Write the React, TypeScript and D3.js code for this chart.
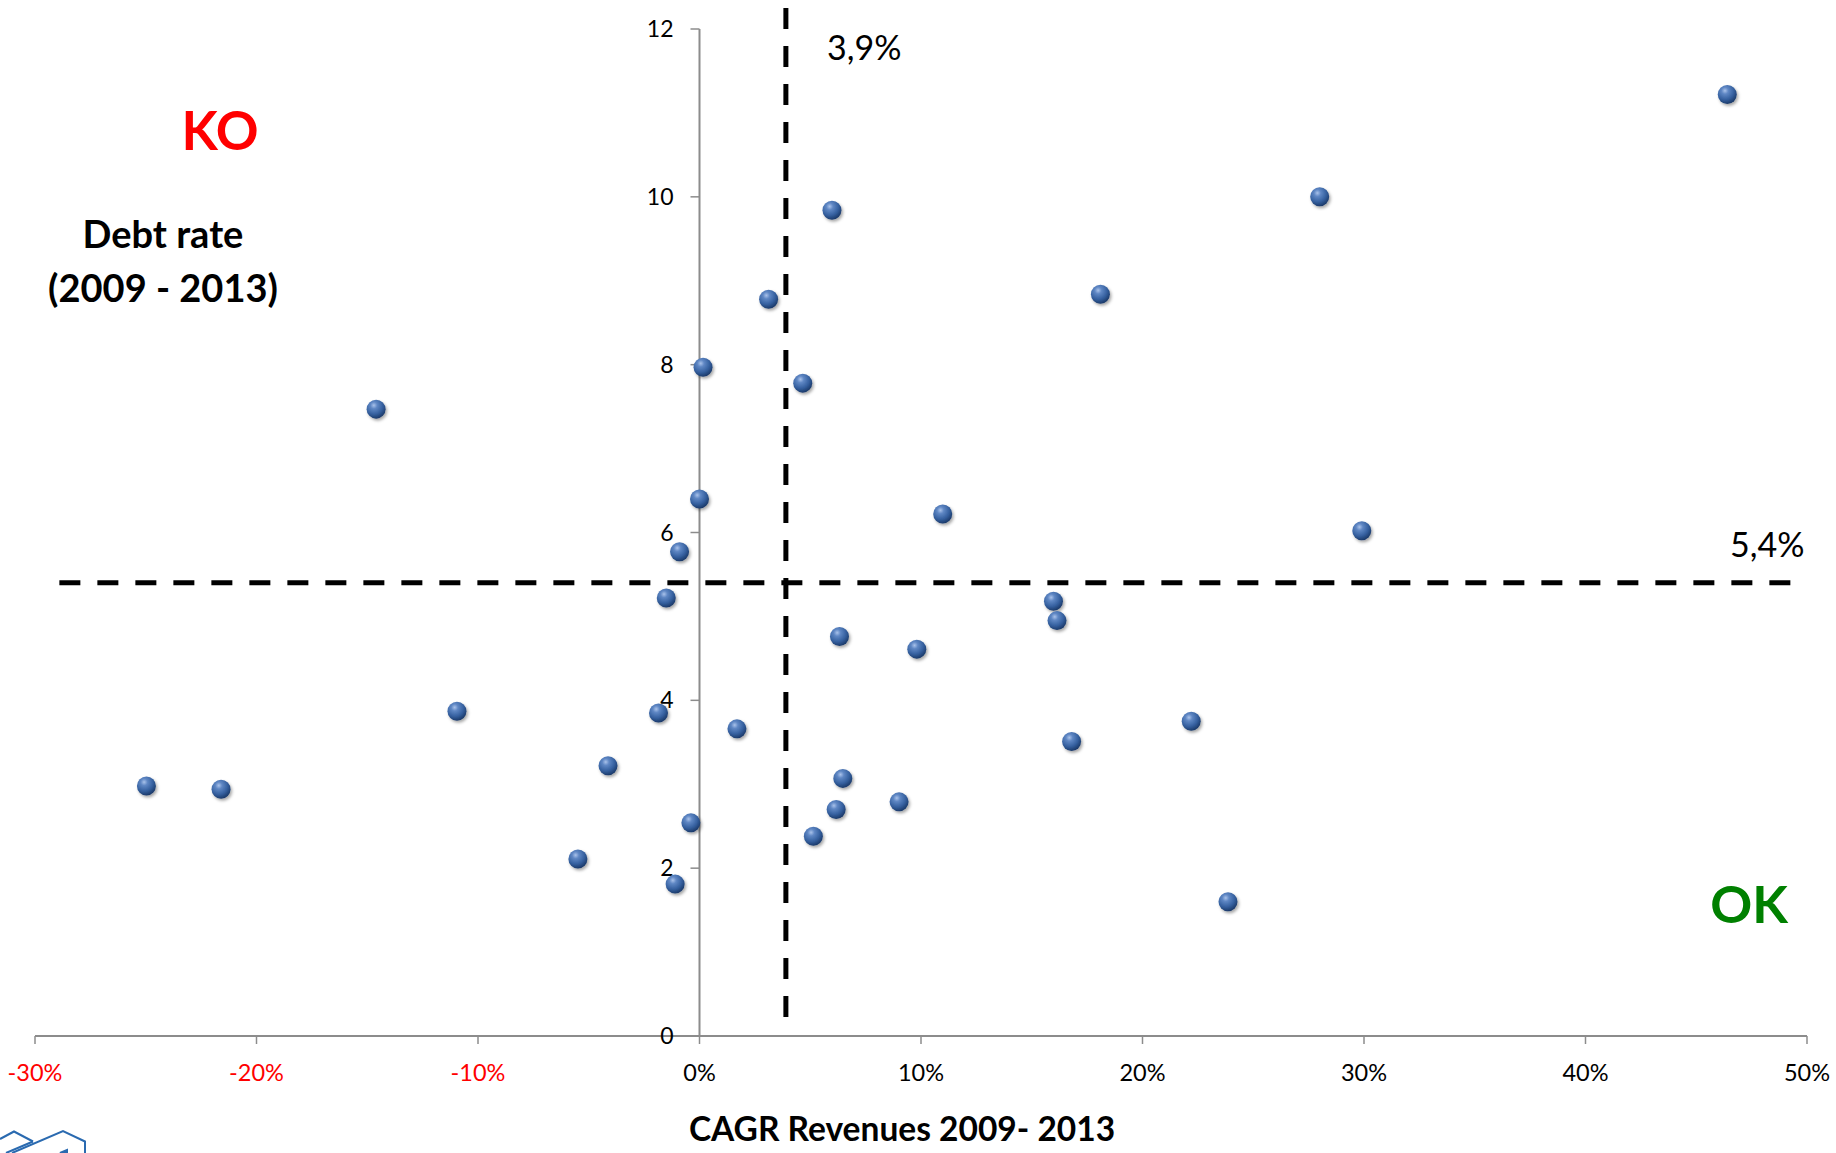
import React from "react";
import * as d3 from "d3";

const cagr = [46.4, 28.0, 5.98, 18.1, 3.12, 0.16, 4.66, -14.6, 0.0, 10.98, 29.9, -0.9, -1.5, 15.98, 16.14, 6.32, 9.81, -10.95, -1.85, 22.2, 1.69, 16.8, -4.13, 6.47, -24.97, -21.6, 9.01, 6.17, -0.39, 5.14, -5.49, -1.1, 23.86];
const debt = [11.22, 10.0, 9.84, 8.84, 8.78, 7.97, 7.78, 7.47, 6.4, 6.22, 6.02, 5.77, 5.22, 5.18, 4.95, 4.76, 4.61, 3.87, 3.85, 3.75, 3.66, 3.51, 3.22, 3.07, 2.98, 2.94, 2.79, 2.7, 2.54, 2.38, 2.11, 1.81, 1.6];
const xTicks = [-30, -20, -10, 0, 10, 20, 30, 40, 50];
const yTicks = [0, 2, 4, 6, 8, 10, 12];
const cagrThreshold = 3.9;
const debtThreshold = 5.4;
const vLineExtent = [0.18, 12.25];
const hLineExtent = [-28.9, 49.65];

const W = 1836;
const H = 1153;
const FONT = "Lato, 'Open Sans', sans-serif";

export default function App() {
  const x = d3.scaleLinear().domain([-30, 50]).range([35, 1807]);
  const y = d3.scaleLinear().domain([0, 12]).range([1036, 29]);
  const axisColor = "#8c8c8c";
  const points = cagr.map((c, i) => ({ c, d: debt[i] }));

  return (
    <svg width={W} height={H} style={{ position: "absolute", left: 0, top: 0, display: "block", background: "#fff" }} fontFamily={FONT}>
      <defs>
        <radialGradient id="sphere" cx="38%" cy="30%" r="72%">
          <stop offset="0%" stopColor="#a9c2ea" />
          <stop offset="25%" stopColor="#5f87c4" />
          <stop offset="65%" stopColor="#35609f" />
          <stop offset="100%" stopColor="#1a3867" />
        </radialGradient>
        <filter id="shadow" x="-50%" y="-50%" width="200%" height="200%">
          <feDropShadow dx="1.5" dy="2" stdDeviation="1.5" floodColor="#000" floodOpacity="0.35" />
        </filter>
      </defs>

      {/* x axis */}
      <line x1={x(-30)} x2={x(50)} y1={y(0)} y2={y(0)} stroke={axisColor} strokeWidth={2} />
      {xTicks.map((t) => (
        <g key={"xt" + t}>
          <line x1={x(t)} x2={x(t)} y1={y(0)} y2={y(0) + 8} stroke={axisColor} strokeWidth={1.5} />
          <text x={x(t)} y={y(0) + 45} textAnchor="middle" fontSize={23.5} fill={t < 0 ? "#ff0000" : "#000"}>
            {t + "%"}
          </text>
        </g>
      ))}

      {/* y axis */}
      <line x1={x(0)} x2={x(0)} y1={y(12)} y2={y(0)} stroke={axisColor} strokeWidth={2} />
      {yTicks.map((t) => (
        <g key={"yt" + t}>
          <line x1={x(0) - 9} x2={x(0)} y1={y(t)} y2={y(t)} stroke={axisColor} strokeWidth={1.5} />
          <text x={x(0) - 26} y={y(t) + 8} textAnchor="end" fontSize={23} fill="#000">
            {t}
          </text>
        </g>
      ))}

      {/* threshold lines */}
      <line x1={x(cagrThreshold)} x2={x(cagrThreshold)} y1={y(vLineExtent[1])} y2={y(vLineExtent[0])} stroke="#000" strokeWidth={5} strokeDasharray="21 17" />
      <line x1={x(hLineExtent[0])} x2={x(hLineExtent[1])} y1={y(debtThreshold)} y2={y(debtThreshold)} stroke="#000" strokeWidth={5} strokeDasharray="21 17" />

      {/* points */}
      {points.map((p, i) => (
        <circle key={i} cx={x(p.c)} cy={y(p.d)} r={9.5} fill="url(#sphere)" filter="url(#shadow)" />
      ))}

      {/* labels */}
      <text x={827} y={60} fontSize={34} fill="#000">3,9%</text>
      <text x={1730} y={557} fontSize={34} fill="#000">5,4%</text>
      <text x={220} y={150} textAnchor="middle" fontSize={53} fontWeight="bold" fill="#ff0000">KO</text>
      <text x={1749} y={923} textAnchor="middle" fontSize={52} fontWeight="bold" fill="#008000">OK</text>
      <text x={163} y={248} textAnchor="middle" fontSize={38} fontWeight="bold" fill="#000">Debt rate</text>
      <text x={163} y={302} textAnchor="middle" fontSize={38} fontWeight="bold" fill="#000">(2009 - 2013)</text>
      <text x={902} y={1141} textAnchor="middle" fontSize={33.5} fontWeight="bold" fill="#000">CAGR Revenues 2009- 2013</text>

      {/* logo fragment */}
      <g fill="none" stroke="#2a6ab0" strokeWidth={2}>
        <polyline points="0,1139 14,1131.5 33,1141.5" />
        <line x1={6} x2={33} y1={1153} y2={1141.5} />
        <polyline points="12,1153 63,1131 85,1141.5 85,1153" />
        <polygon points="60,1153 67,1150 67,1153" fill="#2a6ab0" />
      </g>
    </svg>
  );
}
